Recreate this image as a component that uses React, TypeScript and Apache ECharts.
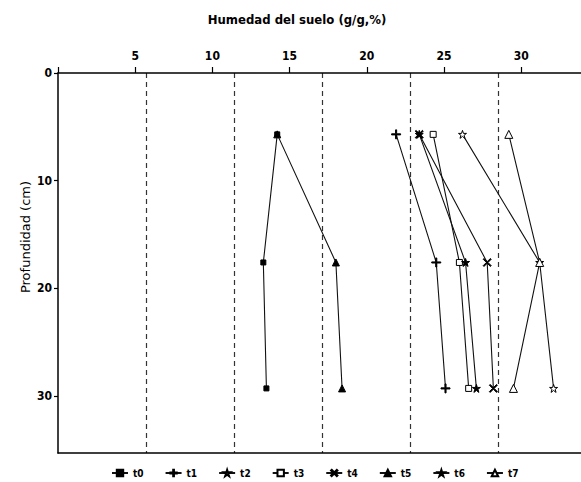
import React, { useEffect, useRef } from "react";
import * as echarts from "echarts";

const depths = [5.7, 17.6, 29.3];
const seriesNames = ["t0", "t1", "t2", "t3", "t4", "t5", "t6", "t7"];
const t0 = [14.2, 13.3, 13.5];
const t1 = [21.9, 24.5, 25.1];
const t2 = [26.2, 31.2, 32.1];
const t3 = [24.3, 26.0, 26.6];
const t4 = [23.4, 27.8, 28.2];
const t5 = [14.2, 18.0, 18.4];
const t6 = [23.4, 26.4, 27.1];
const t7 = [29.2, 31.2, 29.5];
const seriesValues = [t0, t1, t2, t3, t4, t5, t6, t7];
const xTicks = [0, 5, 10, 15, 20, 25, 30];
const yTicks = [0, 10, 20, 30];

const FONT = "'DejaVu Sans Condensed', 'Liberation Sans Narrow', sans-serif";

const PLUS = "path://M4.4 0h1.2v4.4h4.4v1.2h-4.4v4.4h-1.2v-4.4h-4.4v-1.2h4.4z";
const CROSS = "path://M1 0L5 4L9 0L10 1L6 5L10 9L9 10L5 6L1 10L0 9L4 5L0 1Z";
const STAR = "path://M5 0L6.2 3.6H10L7 5.8L8.1 9.5L5 7.2L1.9 9.5L3 5.8L0 3.6H3.8Z";

const markers: any[] = [
  { symbol: "rect", size: 5, fill: "#000" },
  { symbol: PLUS, size: 9, fill: "#000" },
  { symbol: STAR, size: 8, fill: "#fff" },
  { symbol: "rect", size: 6, fill: "#fff" },
  { symbol: CROSS, size: 8, fill: "#000" },
  { symbol: "triangle", size: 7, fill: "#000" },
  { symbol: STAR, size: 8, fill: "#000" },
  { symbol: "triangle", size: 8, fill: "#fff" },
];

export default function App() {
  const ref = useRef<HTMLDivElement>(null);
  useEffect(() => {
    if (!ref.current) return;
    const chart = echarts.init(ref.current, undefined, { renderer: "svg" });
    const series = seriesNames.map((name, i) => ({
      name,
      type: "line",
      xAxisIndex: 0,
      yAxisIndex: 0,
      data: seriesValues[i].map((v, j) => [v, depths[j]]),
      symbol: markers[i].symbol,
      symbolSize: markers[i].size,
      showAllSymbol: true,
      lineStyle: { color: "#111", width: 1.1 },
      itemStyle: { color: markers[i].fill, borderColor: "#000", borderWidth: 1 },
      z: 3,
    }));
    chart.setOption({
      animation: false,
      backgroundColor: "#fff",
      legend: {
        data: seriesNames,
        left: 106,
        top: 463,
        itemWidth: 16,
        itemHeight: 8,
        itemGap: 21,
        textStyle: { fontFamily: FONT, fontWeight: "bold", fontSize: 10, color: "#000" },
      },
      grid: { left: 58, top: 73, width: 528, height: 380, containLabel: false },
      xAxis: [
        {
          type: "value",
          position: "top",
          min: xTicks[0],
          max: 34.2,
          interval: 5,
          axisLine: { show: true, lineStyle: { color: "#000", width: 1.5 } },
          axisTick: { show: true, length: 6, lineStyle: { color: "#000", width: 1.2 } },
          axisLabel: {
            margin: 11,
            showMaxLabel: false,
            fontFamily: FONT,
            fontWeight: "bold",
            fontSize: 12,
            color: "#000",
            formatter: (v: number) => (v === 0 || !xTicks.includes(v) ? "" : String(v)),
          },
          splitLine: { show: false },
        },
        {
          type: "value",
          position: "bottom",
          min: 0,
          max: 6,
          interval: 1,
          axisLine: { show: true, lineStyle: { color: "#000", width: 1.5 } },
          axisTick: { show: false },
          axisLabel: { show: false },
          splitLine: {
            show: true,
            showMinLine: false,
            showMaxLine: false,
            lineStyle: { color: "#333", type: [5, 4], width: 1.2 },
          },
        },
      ],
      yAxis: {
        type: "value",
        inverse: true,
        min: yTicks[0],
        max: 35.3,
        interval: 10,
        z: 5,
        axisLine: { show: true, lineStyle: { color: "#000", width: 1.5 } },
        axisTick: { show: true, length: 4, lineStyle: { color: "#000", width: 1.2 } },
        axisLabel: {
          margin: 6,
          showMaxLabel: false,
          fontFamily: FONT,
          fontWeight: "bold",
          fontSize: 12,
          color: "#000",
        },
        splitLine: { show: false },
      },
      graphic: [
        {
          type: "text",
          x: 297,
          y: 19,
          style: {
            text: "Humedad del suelo (g/g,%)",
            fontFamily: FONT,
            fontWeight: "bold",
            fontSize: 13,
            fill: "#000",
            align: "center",
            verticalAlign: "middle",
          },
        },
        {
          type: "text",
          x: 25,
          y: 237,
          rotation: Math.PI / 2,
          style: {
            text: "Profundidad (cm)",
            fontFamily: "'DejaVu Sans', sans-serif",
            fontSize: 13,
            fill: "#000",
            align: "center",
            verticalAlign: "middle",
          },
        },
      ],
      series,
    });
    return () => chart.dispose();
  }, []);
  return (
    <div
      ref={ref}
      style={{ position: "fixed", left: 0, top: 0, width: 590, height: 482 }}
    />
  );
}
